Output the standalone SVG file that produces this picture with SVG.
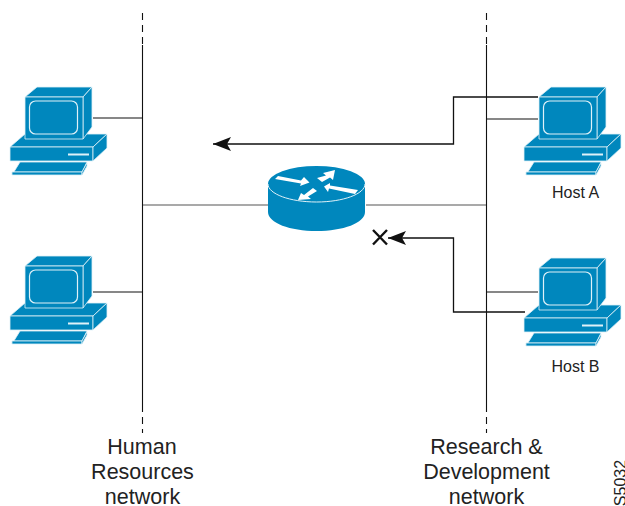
<svg xmlns="http://www.w3.org/2000/svg" width="625" height="506" viewBox="0 0 625 506">
<style>
.w{fill:#fff}
.b{fill:#0087bd}
.o{fill:none;stroke:#dff1f8;stroke-width:1.2}
.s{fill:#0087bd;stroke:#dff1f8;stroke-width:.8;stroke-linejoin:round}
.l{fill:none;stroke:#111;stroke-width:1.1}
.g{fill:none;stroke:#555;stroke-width:1.1}
.d{fill:none;stroke:#111;stroke-width:1.1;stroke-dasharray:7 5}
.a{fill:none;stroke:#111;stroke-width:1.3}
text{font-family:"Liberation Sans",Arial,sans-serif;fill:#222;text-anchor:middle}
.t{font-size:21.5px}
.h{font-size:16px}
</style>
<defs>
<marker id="ah" markerUnits="userSpaceOnUse" markerWidth="20" markerHeight="16" refX="18" refY="8" orient="auto"><path d="M18 8L0 1 4 8 0 15Z" fill="#111"/></marker>
<g id="pc">
<path class="s" d="M10 147L25 134H107L93 147Z"/>
<path class="s" d="M10 147H93V161H10Z"/>
<path class="s" d="M93 147L107 134V148L93 161Z"/>
<path d="M68 154.500H89" stroke="#dff1f8" stroke-width="2" fill="none"/>
<path class="s" d="M12 175L20 162H87L82 172H12Z"/>
<path class="s" d="M12 172H82V175H12Z"/>
<path class="s" d="M82 172L87 163V166L82 175Z"/>
<path class="s" d="M25 97L37 87H92L83 97Z"/>
<path class="s" d="M83 97L92 87V127L83 139Z"/>
<rect class="s" x="25" y="97" width="58" height="42"/>
<rect class="o" x="29.500" y="101" width="48" height="33" rx="6"/>
</g>
</defs>

<g id="connectors">
<path class="d" d="M142.500 13V45"/>
<path class="l" d="M142.500 45V405"/>
<path class="d" d="M142.500 405V433"/>
<path class="d" d="M486.500 13V45"/>
<path class="l" d="M486.500 45V405"/>
<path class="d" d="M486.500 405V433"/>
<path class="l" d="M93 118H142"/>
<path class="l" d="M93 292H142"/>
<path class="l" d="M487 119H538"/>
<path class="l" d="M487 292H538"/>
<path class="g" d="M143 205H268"/>
<path class="g" d="M366 205H486"/>
<path class="a" d="M538 97H453.500V144H213" marker-end="url(#ah)"/>
<path class="a" d="M525 312H453.500V238H388" marker-end="url(#ah)"/>
<path d="M373 230L387 244.500M387 230L373 244.500" fill="none" stroke="#111" stroke-width="2.400"/>
</g>

<g id="pc-hr-1"><use href="#pc"/></g>
<g id="pc-hr-2"><use href="#pc" y="169"/></g>
<g id="host-a"><use href="#pc" x="514"/><text class="h" x="575.500" y="198">Host A</text></g>
<g id="host-b"><use href="#pc" x="514" y="171"/><text class="h" x="575.500" y="372">Host B</text></g>

<g id="router">
<path class="b" d="M268 184V212C268 223 290 231 316.500 231S365 223 365 212V184Z"/>
<ellipse class="b" cx="316.500" cy="184" rx="48.500" ry="18"/>
<path d="M268 184C268 194 290 202 316.500 202S365 194 365 184" fill="none" stroke="#dff1f8" stroke-width="1"/>
<path class="w" d="M278 176L301 180.500 304 177 309.500 182.500 300 186 301 183.500 275 179Z"/>
<path class="w" d="M317 178L326 175.500 323 173 335 170 333 180 330 177.500 322 182Z"/>
<path class="w" d="M324 186.500L330 183 330 185.500 358 190 355 194 329 188.500 328 192Z"/>
<path class="w" d="M313 188L317 191 308 196.500 311 199 298 200 301 193 304 195Z"/>
</g>

<g id="labels">
<text class="t" x="142" y="454">Human</text>
<text class="t" x="142.500" y="479">Resources</text>
<text class="t" x="142.500" y="504">network</text>
<text class="t" x="486.500" y="454">Research &amp;</text>
<text class="t" x="486.500" y="479">Development</text>
<text class="t" x="486.500" y="504">network</text>
<text class="h" transform="translate(625.500 483) rotate(-90)">S5032</text>
</g>
</svg>
